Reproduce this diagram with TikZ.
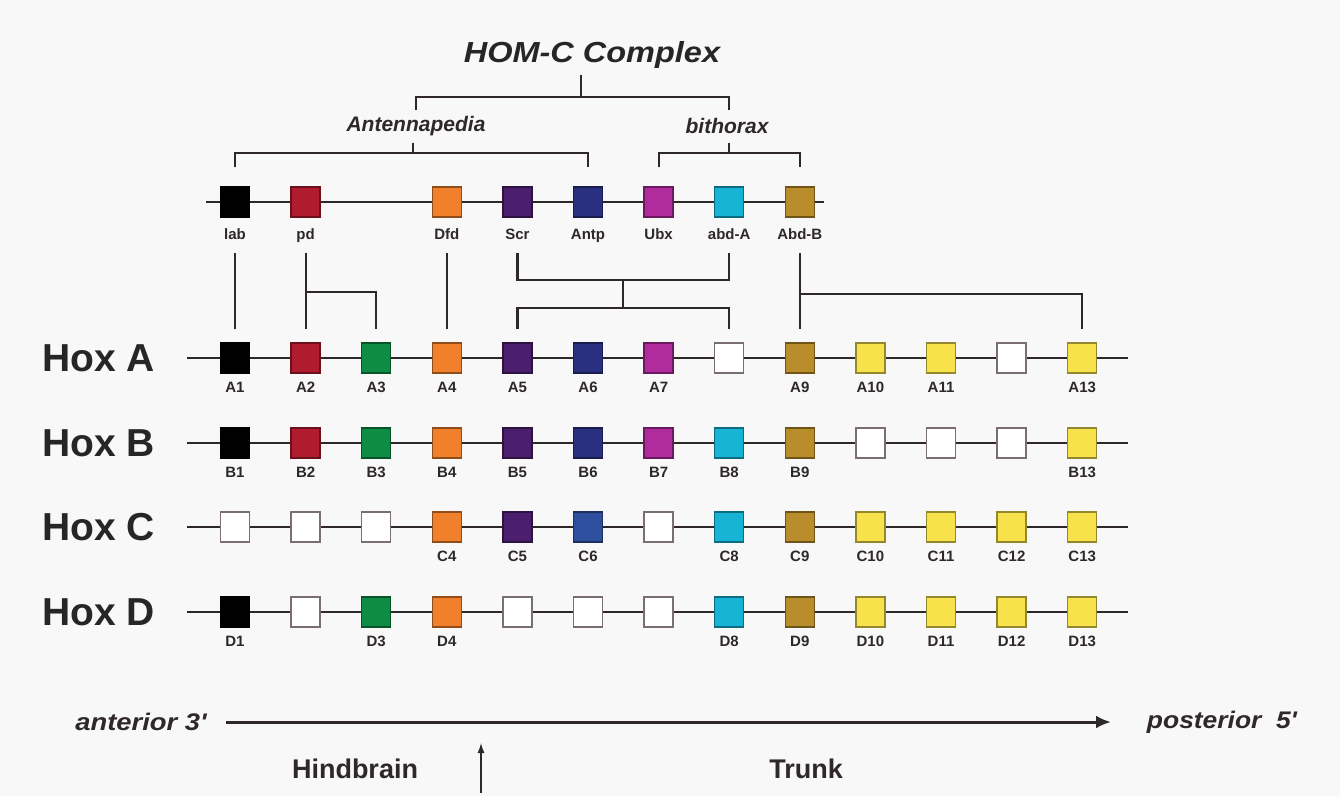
\documentclass[tikz,border=0pt]{standalone}
\usepackage{fontspec}
\setmainfont{Liberation Sans}
\usetikzlibrary{arrows.meta,calc}
\definecolor{cRed}{HTML}{B01C2E}
\definecolor{cGreen}{HTML}{0E8C45}
\definecolor{cOrange}{HTML}{F0802C}
\definecolor{cPurple}{HTML}{4B1F6E}
\definecolor{cNavy}{HTML}{28307F}
\definecolor{cBlue}{HTML}{2E4F9E}
\definecolor{cMagenta}{HTML}{B02C9C}
\definecolor{cCyan}{HTML}{17B4D6}
\definecolor{cBrown}{HTML}{B98C2C}
\definecolor{cYellow}{HTML}{F7E24C}
\definecolor{cLine}{HTML}{2E2828}
\definecolor{cGray}{HTML}{7A6E6E}
\definecolor{cBg}{HTML}{F8F8F8}
\newcommand\gx[1]{235+(#1-1)*70.6}
\newcommand\gn[5]{%
  \node[gbox=#4] (#1) at ({\gx{#2}},#3) {};
  \node[glab] (#1l) at ({\gx{#2}},{#3+30}) {#5};}
\newcommand\wn[3]{%
  \node[wbox] (#1) at ({\gx{#2}},#3) {};}
\begin{document}
\begin{tikzpicture}[x=1pt,y=-1pt,
  gbox/.style={draw=#1!60!black, fill=#1, line width=1.5pt, minimum width=29pt, minimum height=30pt, inner sep=0pt},
  wbox/.style={draw=cGray, fill=white, line width=1.5pt, minimum width=29pt, minimum height=30pt, inner sep=0pt},
  glab/.style={font=\bfseries\fontsize{15}{15}\selectfont, text=cLine, inner sep=0pt, text height=11pt, text depth=3pt},
  flab/.style={font=\bfseries\fontsize{15}{15}\selectfont, text=cLine, inner sep=0pt, text height=11pt, text depth=3pt},
  hoxlab/.style={font=\bfseries\fontsize{39}{39}\selectfont, text=black!85, inner sep=0pt, anchor=west},
  rowline/.style={draw=cLine, line width=2.8pt},
  conn/.style={draw=cLine, line width=2.2pt},
  ital/.style={font=\bfseries\itshape\fontsize{21}{21}\selectfont, text=cLine, inner sep=0pt},
  big/.style={font=\bfseries\itshape\fontsize{29}{29}\selectfont, text=black!85, inner sep=0pt},
  axlab/.style={font=\bfseries\itshape\fontsize{24}{24}\selectfont, text=cLine, inner sep=0pt},
  reg/.style={font=\bfseries\fontsize{27}{27}\selectfont, text=cLine, inner sep=0pt}
]
\fill[cBg] (0,0) rectangle (1340,796);
\useasboundingbox (0,0) rectangle (1340,796);

% ---------- title and HOM-C brackets
\node[big] (title) at (592,55) {\scalebox{1.12}[1]{HOM-C Complex}};
\node[ital] (antL) at (416,126) {Antennapedia};
\node[ital] (bitL) at (727,126) {bithorax};
\coordinate (topB) at (581,97);
\draw[conn] (topB |- 0,75) -- (topB);
\draw[conn] (antL.north |- 0,110) |- (topB) -| (729,110);

% ---------- fly row
\coordinate (fS) at (206,202);
\coordinate (fE) at (824,202);
\draw[rowline] (fS) -- (fE);
\node[gbox=black] (flab) at ({\gx{1}},202) {};
\node[gbox=cRed] (fpd) at ({\gx{2}},202) {};
\node[gbox=cOrange] (fDfd) at ({\gx{4}},202) {};
\node[gbox=cPurple] (fScr) at ({\gx{5}},202) {};
\node[gbox=cNavy] (fAntp) at ({\gx{6}},202) {};
\node[gbox=cMagenta] (fUbx) at ({\gx{7}},202) {};
\node[gbox=cCyan] (fabdA) at ({\gx{8}},202) {};
\node[gbox=cBrown] (fAbdB) at ({\gx{9}},202) {};
\foreach \n/\t in {flab/lab,fpd/pd,fDfd/Dfd,fScr/Scr,fAntp/Antp,fUbx/Ubx,fabdA/abd-A,fAbdB/Abd-B}
  \node[flab] (\n l) at ($(\n)+(0,33)$) {\t};

% Antennapedia / bithorax brackets
\coordinate (antB) at (413,153);
\coordinate (bitB) at (729,153);
\draw[conn] ([yshift=19pt]flab.north) |- (antB) -| ([yshift=19pt]fAntp.north);
\draw[conn] (antB) -- (antB |- 0,143);
\draw[conn] ([yshift=19pt]fUbx.north) |- (bitB) -| ([yshift=19pt]fAbdB.north);
\draw[conn] (bitB) -- (bitB |- 0,143);

% ---------- Hox rows
\foreach \r/\y in {A/358,B/443,C/527,D/612}{
  \node[hoxlab] (hox\r) at (42,\y) {Hox \r};
  \coordinate (\r s) at (187,\y);
  \coordinate (\r e) at (1128,\y);
  \draw[rowline] (\r s) -- (\r e);
}
% Hox A
\gn{A1}{1}{358}{black}{A1}
\gn{A2}{2}{358}{cRed}{A2}
\gn{A3}{3}{358}{cGreen}{A3}
\gn{A4}{4}{358}{cOrange}{A4}
\gn{A5}{5}{358}{cPurple}{A5}
\gn{A6}{6}{358}{cNavy}{A6}
\gn{A7}{7}{358}{cMagenta}{A7}
\wn{A8}{8}{358}
\gn{A9}{9}{358}{cBrown}{A9}
\gn{A10}{10}{358}{cYellow}{A10}
\gn{A11}{11}{358}{cYellow}{A11}
\wn{A12}{12}{358}
\gn{A13}{13}{358}{cYellow}{A13}
% Hox B
\gn{B1}{1}{443}{black}{B1}
\gn{B2}{2}{443}{cRed}{B2}
\gn{B3}{3}{443}{cGreen}{B3}
\gn{B4}{4}{443}{cOrange}{B4}
\gn{B5}{5}{443}{cPurple}{B5}
\gn{B6}{6}{443}{cNavy}{B6}
\gn{B7}{7}{443}{cMagenta}{B7}
\gn{B8}{8}{443}{cCyan}{B8}
\gn{B9}{9}{443}{cBrown}{B9}
\wn{B10}{10}{443}
\wn{B11}{11}{443}
\wn{B12}{12}{443}
\gn{B13}{13}{443}{cYellow}{B13}
% Hox C
\wn{C1}{1}{527}
\wn{C2}{2}{527}
\wn{C3}{3}{527}
\gn{C4}{4}{527}{cOrange}{C4}
\gn{C5}{5}{527}{cPurple}{C5}
\gn{C6}{6}{527}{cBlue}{C6}
\wn{C7}{7}{527}
\gn{C8}{8}{527}{cCyan}{C8}
\gn{C9}{9}{527}{cBrown}{C9}
\gn{C10}{10}{527}{cYellow}{C10}
\gn{C11}{11}{527}{cYellow}{C11}
\gn{C12}{12}{527}{cYellow}{C12}
\gn{C13}{13}{527}{cYellow}{C13}
% Hox D
\gn{D1}{1}{612}{black}{D1}
\wn{D2}{2}{612}
\gn{D3}{3}{612}{cGreen}{D3}
\gn{D4}{4}{612}{cOrange}{D4}
\wn{D5}{5}{612}
\wn{D6}{6}{612}
\wn{D7}{7}{612}
\gn{D8}{8}{612}{cCyan}{D8}
\gn{D9}{9}{612}{cBrown}{D9}
\gn{D10}{10}{612}{cYellow}{D10}
\gn{D11}{11}{612}{cYellow}{D11}
\gn{D12}{12}{612}{cYellow}{D12}
\gn{D13}{13}{612}{cYellow}{D13}

% ---------- fly to Hox A connectors
\draw[conn] (flabl.south |- 0,253) -- ([yshift=13pt]A1.north);
\draw[conn] (fpdl.south |- 0,253) -- ([yshift=13pt]A2.north);
\draw[conn] (A2.north |- 0,292) -| ([yshift=13pt]A3.north);
\draw[conn] (fDfdl.south |- 0,253) -- ([yshift=13pt]A4.north);
\coordinate (sa1) at ($(fScrl.south |- 0,280)!0.5!(fabdAl.south |- 0,280)$);
\draw[conn] (fScrl.south |- 0,253) |- (sa1) -| (fabdAl.south |- 0,253);
\draw[conn] (sa1) -- (sa1 |- 0,308);
\draw[conn] ([yshift=13pt]A5.north) |- (sa1 |- 0,308) -| ([yshift=13pt]A8.north);
\draw[conn] (fAbdBl.south |- 0,253) -- ([yshift=13pt]A9.north);
\draw[conn] (A9.north |- 0,294) -| ([yshift=13pt]A13.north);

% ---------- axis
\node[axlab] (ant) at (141,722) {\scalebox{1.14}[1]{anterior 3\textquotesingle}};
\node[axlab] (post) at (1222,722) {\scalebox{1.1}[1]{posterior\ \ 5\textquotesingle}};
\draw[draw=cLine, line width=3pt, -{Latex[length=15pt,width=13pt]}] (226,722) -- (1111,722);
\node[reg] (hind) at (355,769) {Hindbrain};
\node[reg] (trunk) at (806,769) {Trunk};
\draw[draw=cLine, line width=1.3pt, -{Latex[length=10pt,width=7pt]}] (481,793) -- (481,743);
\end{tikzpicture}
\end{document}
